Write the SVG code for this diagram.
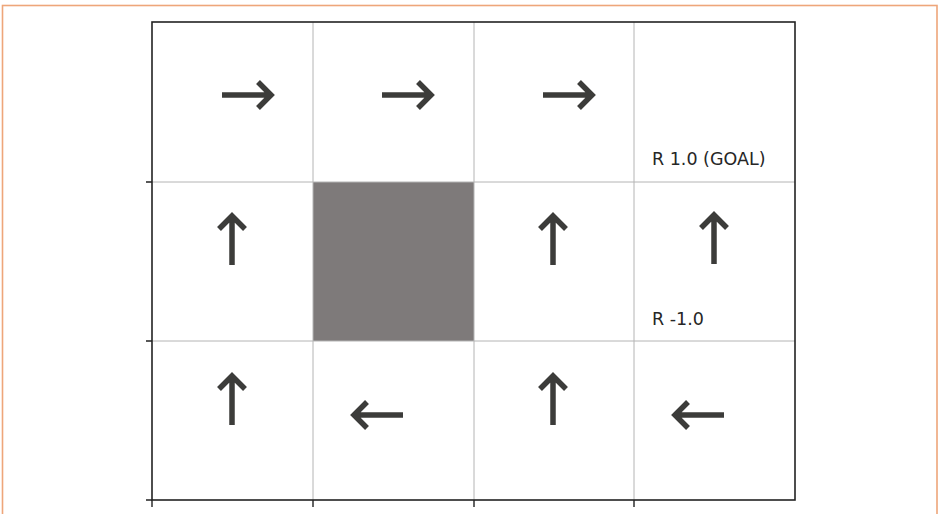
<svg xmlns="http://www.w3.org/2000/svg" xmlns:xlink="http://www.w3.org/1999/xlink" width="940" height="514" viewBox="0 0 940 514">
<style>
.frame{fill:none;stroke:#eea67a;stroke-width:1.6}
.grid{stroke:#b4b4b4;stroke-width:1;fill:none}
.border{fill:none;stroke:#222;stroke-width:1.6}
.tick{stroke:#222;stroke-width:1.4}
.arr{fill:none;stroke:#3c3c3a;stroke-width:5.5;stroke-linejoin:miter;stroke-linecap:butt}
.lbl{font-family:"DejaVu Sans",sans-serif;font-size:17.5px;fill:#262626}
.wall{fill:#7e7a7a}
</style>
<defs>
<g id="arrowR"><path class="arr" d="M-26,0 H23 M10,-13 L23,0 L10,13"/></g>
</defs>
<rect width="940" height="514" fill="#fff"/>
<rect class="frame" x="2.5" y="5.5" width="934.5" height="520"/>
<g id="grid">
<rect id="cell-1-1" class="wall" x="313" y="182" width="161" height="159"/>
<path class="grid" d="M313,22V500M474,22V500M634,22V500M152,182H795M152,341H795"/>
<rect class="border" x="152" y="22" width="643" height="478"/>
<path class="tick" d="M146,182H152M146,341H152M146,500H152M152,500V507M313,500V507M474,500V507M634,500V507"/>
</g>
<g id="cell-0-0"><use xlink:href="#arrowR" transform="translate(248,95)"/></g>
<g id="cell-0-1"><use xlink:href="#arrowR" transform="translate(408,95)"/></g>
<g id="cell-0-2"><use xlink:href="#arrowR" transform="translate(569,95)"/></g>
<g id="cell-0-3"><text class="lbl" x="652" y="165">R 1.0 (GOAL)</text></g>
<g id="cell-1-0"><use xlink:href="#arrowR" transform="translate(232,239) rotate(-90)"/></g>
<g id="cell-1-2"><use xlink:href="#arrowR" transform="translate(553,239) rotate(-90)"/></g>
<g id="cell-1-3"><use xlink:href="#arrowR" transform="translate(714,238) rotate(-90)"/><text class="lbl" x="652" y="325">R -1.0</text></g>
<g id="cell-2-0"><use xlink:href="#arrowR" transform="translate(232,399) rotate(-90)"/></g>
<g id="cell-2-1"><use xlink:href="#arrowR" transform="translate(377,415) rotate(180)"/></g>
<g id="cell-2-2"><use xlink:href="#arrowR" transform="translate(553,399) rotate(-90)"/></g>
<g id="cell-2-3"><use xlink:href="#arrowR" transform="translate(698,415) rotate(180)"/></g>
<g id="connectors"></g>
</svg>
